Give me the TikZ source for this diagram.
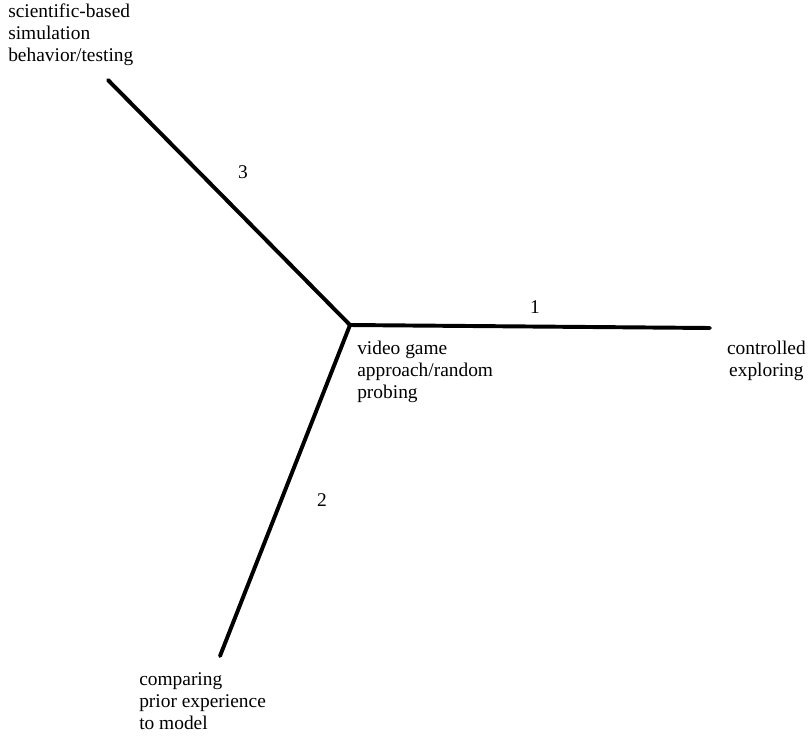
\documentclass[tikz,border=0pt]{standalone}
\usepackage{fontspec}
\setmainfont{Liberation Serif}
\usetikzlibrary{positioning}

\begin{document}
\begin{tikzpicture}[x=0.025cm, y=-0.025cm,
    every node/.style={inner sep=0pt, font=\fontsize{13.8}{15.6}\selectfont},
    branch/.style={line width=2.8pt, line cap=round},
    phase/.style={align=left}]
    \useasboundingbox (0,0) rectangle (809,745);

    \coordinate (c) at (350,325);
    \coordinate (e1) at (710,328);
    \coordinate (e2) at (220,656);
    \coordinate (e3) at (108,80);

    \draw[branch] (c)--(e1);
    \draw[branch] (c)--(e2);
    \draw[branch] (c)--(e3);

    \node (n1) at (535,307) {1};
    \node (n2) at (322,500) {2};
    \node (n3) at (243,172) {3};

    \node[phase, anchor=north west] (start) at (357,341) {video game\\approach/random\\probing};
    \node[align=center, anchor=north east] (ctrl) at (806,341) {controlled\\exploring};
    \node[phase, anchor=north west] (prior) at (139,672) {comparing\\prior experience\\to model};
    \node[phase, anchor=north west] (sci) at (8,4) {scientific-based\\simulation\\behavior/testing};
\end{tikzpicture}
\end{document}
